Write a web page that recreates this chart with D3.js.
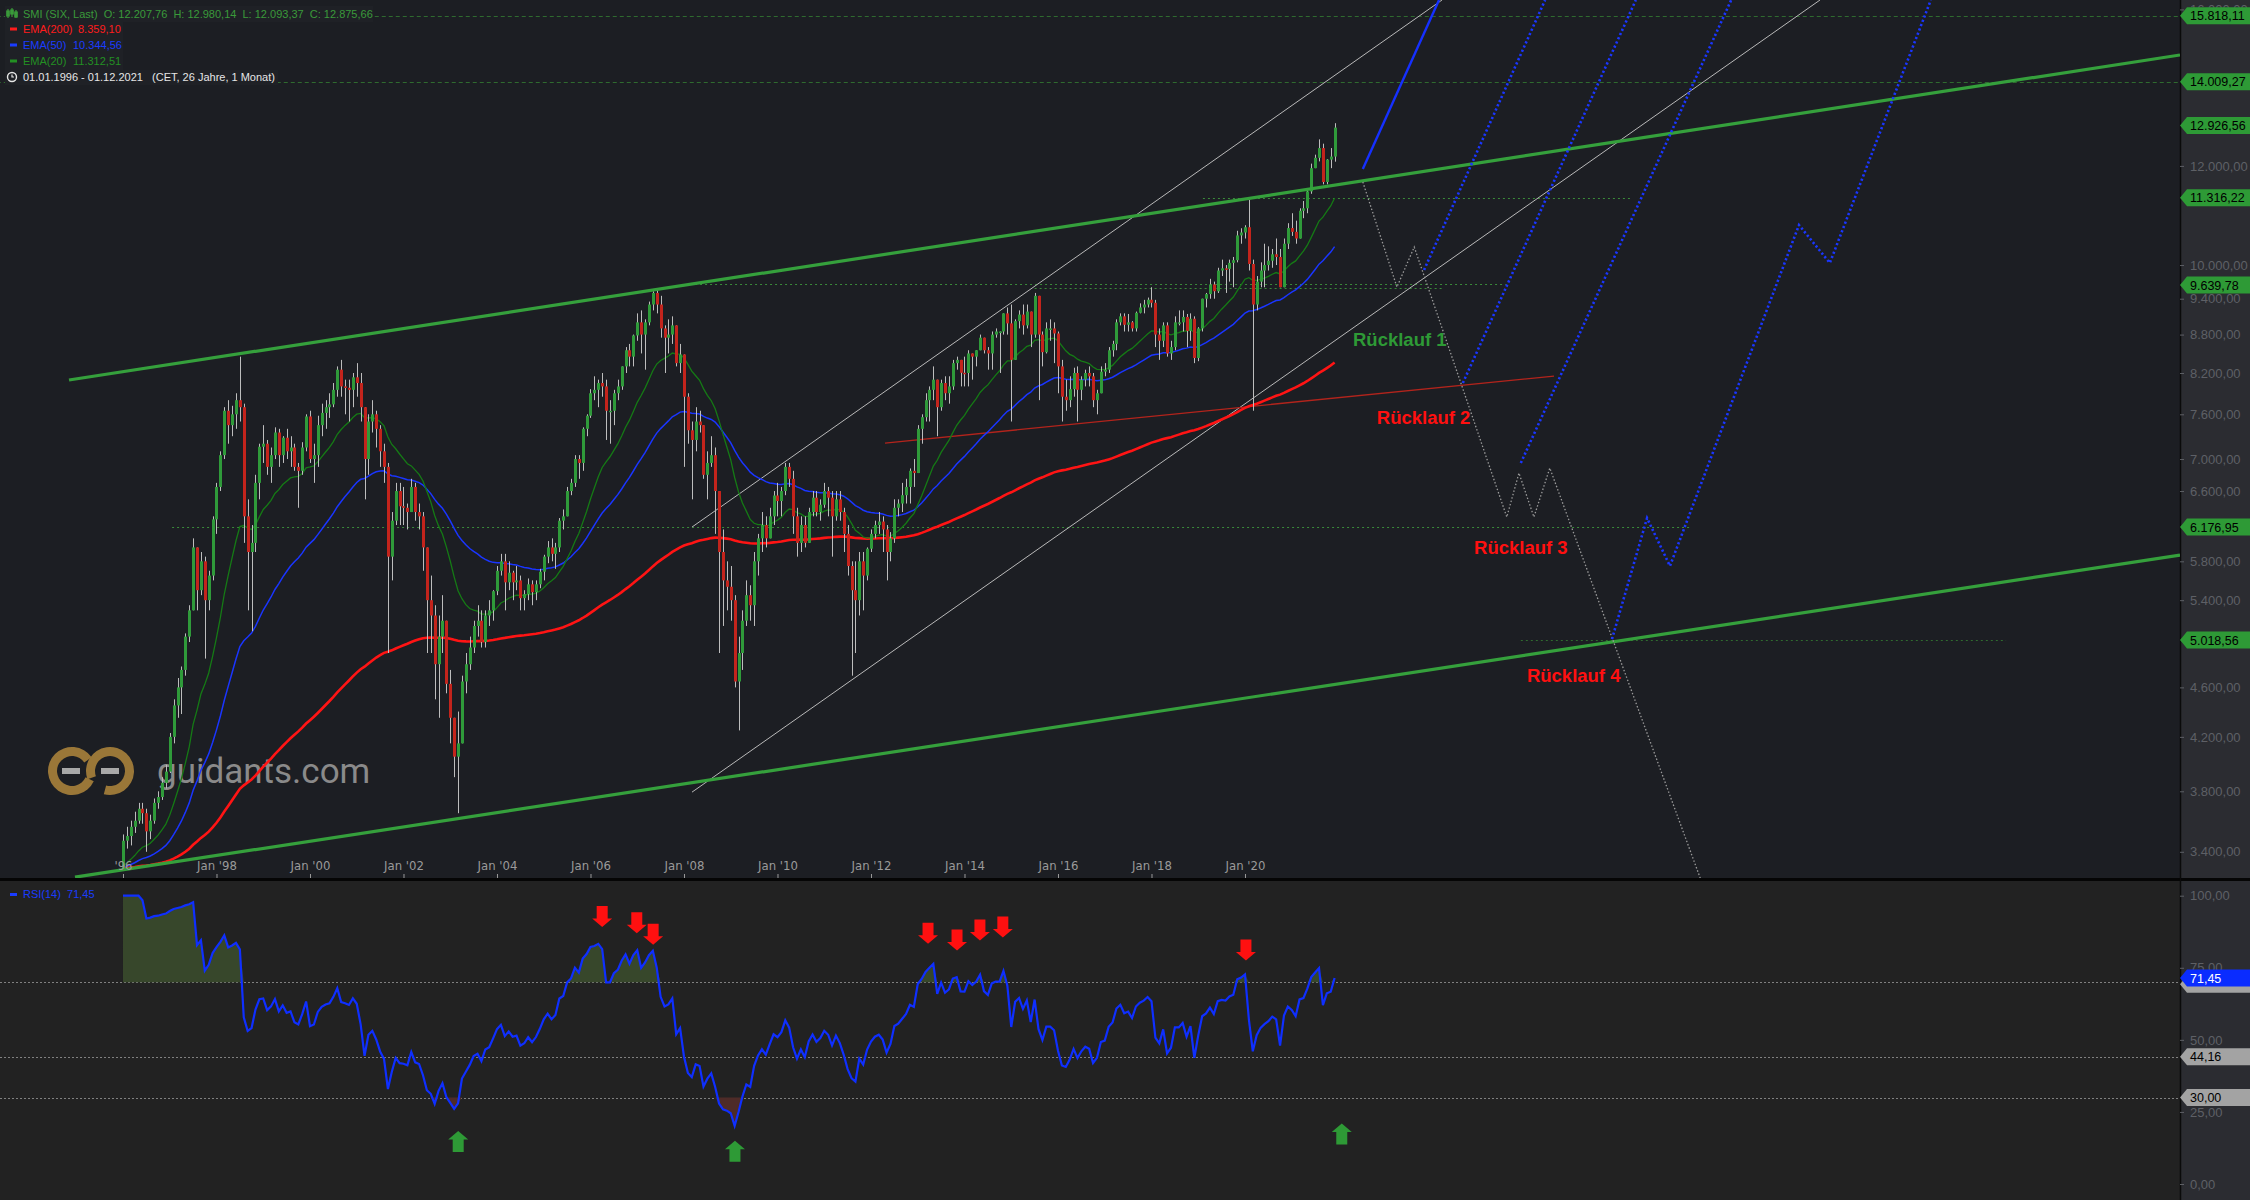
<!DOCTYPE html>
<html><head><meta charset="utf-8">
<script src="https://cdn.jsdelivr.net/npm/d3@7"></script>
<style>
html,body{margin:0;padding:0;background:#1c1e23;overflow:hidden}
svg{display:block}
</style></head><body>
<svg id="c" width="2250" height="1200"></svg>
<script>
// ---------------- DATA ----------------
const startYear = 1996;
const firstOpen = 3297;
const closes = [
3470,3500,3560,3600,3680,3650,3530,3600,3720,3760,3860,3940,
4200,4450,4600,4750,5050,5300,5950,5500,5800,5400,5650,6265,
6650,7050,7650,7450,7600,7800,7700,6300,5900,6000,6700,7160,
7200,6900,7050,7350,7050,7280,7100,7150,6900,6850,7150,7570,
7000,7050,7450,7620,7700,7740,7950,8250,8000,7980,7950,8135,
8050,7700,7000,7500,7600,7400,7100,6900,5850,6250,6600,6418,
6400,6350,6650,6350,6300,5950,5400,5250,4800,5050,5200,4630,
4350,4050,4150,4650,4800,4950,5150,5200,5000,5250,5300,5490,
5700,5800,5580,5680,5580,5600,5420,5460,5560,5480,5560,5690,
5850,5950,5880,5950,6250,6300,6600,6700,7000,6950,7400,7580,
7900,7950,8050,8000,7650,7650,7900,8000,8300,8550,8450,8786,
9000,8800,9000,9300,9500,9300,8900,8750,8800,8950,8350,8484,
7850,7380,7250,7500,7450,6800,6950,7050,6600,5900,5600,5535,
5400,4650,4900,5200,5450,5350,5800,6050,6200,6050,6300,6546,
6480,6600,6900,6750,6300,6000,6200,6000,6350,6520,6350,6436,
6600,6520,6300,6500,6350,6100,5750,5500,5400,5800,5650,5936,
6100,6200,6240,6150,5900,6050,6400,6450,6550,6650,6850,6822,
7400,7560,7800,7950,8100,7700,8050,7900,8000,8350,8400,8203,
8200,8500,8450,8550,8750,8550,8500,8800,8850,8850,9150,8983,
8400,9020,9130,8950,9180,8800,9450,8800,8520,8900,8900,8818,
8300,7850,7800,7960,8200,7950,8100,8200,8150,7800,7900,8220,
8250,8550,8650,9000,9100,8960,9000,8900,9160,9250,9300,9382,
9330,8800,8700,8950,8500,8600,9000,9000,9090,8860,9060,8429,
8900,9400,9480,9650,9530,9900,9940,9930,10040,10090,10560,10617,
10720,10020,9300,9700,9900,10000,10080,10200,10150,9600,10400,10704,
10630,10500,11050,11100,11450,11950,12180,12400,11650,12140,12207.76,12875.66
];
const highs = [
3510,3560,3600,3660,3720,3720,3680,3640,3750,3800,3900,3990,
4230,4500,4680,4780,5080,5350,6050,5950,5900,5850,5700,6300,
6700,7100,7700,7800,7720,7900,8450,7750,6500,6200,6800,7200,
7450,7250,7150,7420,7400,7300,7400,7300,7200,6950,7220,7600,
7650,7200,7580,7750,7800,7900,8050,8300,8400,8100,8100,8200,
8350,8200,7700,7600,7800,7650,7450,7200,6950,6350,6700,6700,
6650,6450,6750,6700,6450,6350,5950,5650,5350,5250,5450,5200,
4750,4350,4400,4700,4900,5050,5200,5350,5300,5300,5400,5500,
5750,5880,5880,5800,5700,5750,5650,5500,5620,5600,5600,5720,
5870,6020,6050,6000,6280,6380,6650,6750,7050,7050,7420,7600,
7960,8150,8100,8200,8100,7800,7950,8100,8300,8600,8650,8800,
9150,9200,9050,9350,9530,9550,9450,8950,9050,9100,8950,8650,
8400,7900,7500,7700,7650,7450,7100,7300,7150,6600,6150,5800,
5750,5450,5050,5300,5600,5550,5900,6100,6350,6300,6400,6600,
6700,6650,6950,6950,6850,6400,6300,6300,6400,6600,6600,6500,
6700,6650,6600,6600,6600,6400,6200,5800,5800,5900,5900,5950,
6150,6250,6350,6300,6200,6120,6500,6500,6700,6750,6880,7000,
7450,7600,7900,8000,8300,8050,8100,8150,8150,8400,8450,8400,
8450,8550,8500,8550,8800,8750,8600,8850,8900,8850,9150,9250,
9300,9050,9200,9300,9300,9100,9500,9400,8850,9000,9050,9000,
8850,8400,8100,8150,8280,8300,8150,8250,8300,8200,7950,8300,
8350,8600,8700,9050,9150,9150,9140,9020,9180,9320,9380,9420,
9600,9380,8900,9000,9000,8700,9100,9200,9200,9140,9150,9100,
8920,9400,9500,9750,9700,9950,10100,10000,10100,10150,10650,10700,
10760,11270,10100,9800,10050,10400,10350,10300,10500,10300,10500,10800,
11000,10850,11100,11250,11500,12050,12250,12600,12500,12150,12400,12980.14
];
const lows = [
3290,3420,3440,3520,3580,3580,3400,3480,3580,3680,3740,3820,
3930,4150,4350,4380,4700,5000,5300,5300,5450,4850,5300,5600,
6100,6600,7000,7200,7300,7400,7500,6000,5300,5100,5900,6500,
6950,6800,6700,7000,6900,6950,7000,6900,6850,6400,6800,7100,
6950,6700,6900,7300,7400,7550,7700,7850,7850,7600,7500,7700,
7850,7500,6500,6800,7350,7150,6900,6700,4900,5600,6200,6200,
6200,6150,6350,6250,6150,5700,4900,4900,4500,4350,4900,4550,
4150,3900,3650,4150,4550,4750,4900,5050,4950,4950,5150,5200,
5450,5650,5300,5500,5400,5500,5300,5300,5400,5350,5400,5520,
5600,5780,5800,5720,5900,6150,6300,6550,6650,6750,6850,7300,
7550,7800,7700,7850,7250,7200,7450,7800,7950,8200,8300,8300,
8700,8500,8250,8950,9200,9150,8750,8200,8500,8650,8300,8200,
6900,7200,6500,7100,7350,6750,6500,6900,6100,4900,5150,5300,
5200,4600,4250,4750,5150,5200,5150,5650,5900,5950,6050,6200,
6300,6300,6550,6650,6100,5850,5900,5950,6000,6300,6300,6250,
6400,6300,5850,6250,6250,5900,5650,4700,4900,5250,5300,5600,
5900,6050,6100,5900,5600,5800,6000,6300,6350,6450,6450,6650,
6900,7200,7500,7500,7800,7300,7650,7800,7750,7950,8250,8000,
8000,8000,8100,8300,8550,8500,8250,8250,8750,8200,8800,8800,
7500,8400,8900,8800,8900,8600,8750,7800,8300,8500,8700,8350,
7900,7500,7650,7700,7850,7500,7800,8000,8000,7700,7600,7900,
8150,8200,8450,8550,8950,8850,8850,8850,8850,9150,9150,9250,
9250,8600,8400,8600,8450,8400,8550,8950,8850,8600,8700,8350,
8380,8850,9250,9400,9400,9500,9800,9500,9700,9600,10050,10400,
10500,9900,7650,9200,9600,9600,9900,9950,10000,9600,9700,10300,
10550,10400,10500,10900,11000,11400,11950,12100,11600,11600,11950,12093.37
];
const yTicks = [3400,3800,4200,4600,5400,5800,6600,7000,7600,8200,8800,9400,10000,12000,16000];
const xTicks = [1996,1998,2000,2002,2004,2006,2008,2010,2012,2014,2016,2018,2020];
const rsiTicks = [0,25,50,75,100];
const priceTags = [15818.11,14009.27,12926.56,11316.22,9639.78,6176.95,5018.56];
const levels = [
  {v:15818.11, from:1993.3, to:2040.1, dash:"4,3", c:"#2f6a2f"},
  {v:14009.27, from:1993.3, to:2040.1, dash:"4,3", c:"#2f6a2f"},
  {v:11316.22, from:2019.10, to:2028.24, dash:"2,3", c:"#3a8a3a"},
  {v:9655, from:2008.13, to:2025.58, dash:"2,3", c:"#3a8a3a"},
  {v:9585, from:2015.5, to:2024.24, dash:"2,3", c:"#3a8a3a"},
  {v:6176.95, from:1997.05, to:2029.52, dash:"2,3", c:"#3a8a3a"},
  {v:5018.56, from:2025.90, to:2036.28, dash:"2,3", c:"#2f6a2f"}
];
const trendGreenUpper = [[1994.845, 8095],[2040.0, 14715]];
const trendGreenLower = [[1994.973, 3245],[2040.0, 5867]];
const channelUpper = [[2008.171, 6177],[2024.214, 16280]];
const channelLower = [[2008.171, 3794],[2032.30, 16280]];
const redLine = [[2012.30, 7209],[2026.61, 8154]];
const blueSolid = [[2022.52, 11932],[2024.15, 16280]];
const blueDot1 = [[2023.83, 9909],[2026.42, 16280]];
const blueDot2 = [[2024.66, 8050],[2028.36, 16280]];
const blueDot3 = [[2025.90, 6949],[2030.40, 16280]];
const blueDot4 = [[2027.85, 5027],[2028.60, 6280],[2029.09, 5750],[2031.85, 10764],[2032.51, 10038],[2034.67, 16280]];
const greyPath = [[2022.52, 11650],[2023.25, 9604],[2023.62, 10337],[2025.60, 6292],[2025.86, 6822],[2026.18, 6292],[2026.52, 6885],[2029.75, 3230]];
const notes = [
  {t:"Rücklauf 1", x:2022.31, v:8617, c:"#2e9a36"},
  {t:"Rücklauf 2", x:2022.82, v:7464, c:"#ff1010"},
  {t:"Rücklauf 3", x:2024.90, v:5878, c:"#ff1010"},
  {t:"Rücklauf 4", x:2026.03, v:4645, c:"#ff1010"}
];
const downArrows = [[2006.25,92.8],[2006.99,90.6],[2007.34,86.6],[2013.22,87.0],[2013.84,84.6],[2014.33,88.1],[2014.82,89.1],[2020.02,81.2]];
const upArrows = [[2003.17,14.7],[2009.09,11.4],[2022.07,17.3]];
const rsiLevels = [70, 44.16, 30];

// ---------------- SETUP ----------------
const W=2250, H=1200, PR=2180, MB=878, RT=881;
const svg = d3.select("#c");
const loc = d3.formatLocale({decimal:",",thousands:".",grouping:[3],currency:["",""]});
const fmt = loc.format(",.2f");

const n = closes.length;
const candles = closes.map((c,i)=>{
  const o = i===0 ? firstOpen : closes[i-1];
  return {t: startYear + i/12, o, c, h: Math.max(highs[i], o, c), l: Math.min(lows[i], o, c)};
});
function ema(arr, p){ const k=2/(p+1); let e=firstOpen; return arr.map(v => (e = v*k + e*(1-k))); }
const ema20 = ema(closes,20), ema50 = ema(closes,50), ema200 = ema(closes,200);
const rsi = [];
{ let ag=0, al=0;
  candles.forEach((d,i)=>{
    const ch = d.c - d.o, g=Math.max(ch,0), l=Math.max(-ch,0);
    if(i===0){ag=g; al=l;} else {ag=(ag*13+g)/14; al=(al*13+l)/14;}
    rsi.push(al===0 ? 100 : 100 - 100/(1+ag/al));
  });
}

const x = d3.scaleLinear().domain([1993.369, 2040.0]).range([0, PR]);
const y = d3.scaleLog().domain([3240, 16280]).range([MB, 0]);
const yR = d3.scaleLinear().domain([0,100]).range([1184, 895.7]);

// backgrounds
svg.append("rect").attr("x",0).attr("y",0).attr("width",W).attr("height",H).attr("fill","#1c1e23");
svg.append("rect").attr("x",0).attr("y",RT).attr("width",PR).attr("height",H-RT).attr("fill","#222222");
svg.append("rect").attr("x",PR).attr("y",0).attr("width",W-PR).attr("height",H).attr("fill","#2b2c31");
svg.append("rect").attr("x",0).attr("y",MB).attr("width",W).attr("height",RT-MB).attr("fill","#050505");
svg.append("line").attr("x1",PR+0.5).attr("x2",PR+0.5).attr("y1",0).attr("y2",H).attr("stroke","#0a0a0a").attr("stroke-width",1.5);

const defs = svg.append("defs");
defs.append("clipPath").attr("id","cm").append("rect").attr("x",0).attr("y",0).attr("width",PR).attr("height",MB);
defs.append("clipPath").attr("id","cr").append("rect").attr("x",0).attr("y",RT).attr("width",PR).attr("height",H-RT);

const main = svg.append("g").attr("clip-path","url(#cm)");

// watermark
const wm = main.append("g");
const ringArc = d3.arc().innerRadius(15).outerRadius(24);
wm.append("path").attr("transform","translate(72,771)").attr("fill","#9a7738")
  .attr("d", ringArc({startAngle: 115*Math.PI/180, endAngle: 415*Math.PI/180}));
wm.append("path").attr("transform","translate(110,771)").attr("fill","#9a7738")
  .attr("d", ringArc({startAngle: 250*Math.PI/180, endAngle: 555*Math.PI/180}));
wm.append("rect").attr("x",62).attr("y",768).attr("width",18).attr("height",6).attr("fill","#a8a8a8");
wm.append("rect").attr("x",101).attr("y",768).attr("width",18).attr("height",6).attr("fill","#a8a8a8");
wm.append("text").attr("x",157).attr("y",783).attr("font-family","Roboto, sans-serif").attr("font-size",35)
  .attr("fill","#8a8a8a").text("guidants.com");

// levels
main.selectAll(".lvl").data(levels).join("line")
  .attr("x1",d=>x(d.from)).attr("x2",d=>x(d.to)).attr("y1",d=>Math.round(y(d.v))+0.5).attr("y2",d=>Math.round(y(d.v))+0.5)
  .attr("stroke",d=>d.c).attr("stroke-width",1).attr("stroke-dasharray",d=>d.dash);

const lineGen = d3.line().x(d=>x(d[0])).y(d=>y(d[1]));
function drawLine(data, color, width, dash){
  const p = main.append("path").attr("d", lineGen(data)).attr("fill","none").attr("stroke",color).attr("stroke-width",width);
  if(dash) p.attr("stroke-dasharray",dash);
  return p;
}
drawLine(channelUpper, "#b9b9b9", 1);
drawLine(channelLower, "#b9b9b9", 1);
drawLine(redLine, "#b3241c", 1.3);

// EMAs
const emaLine = arr => d3.line().x((d,i)=>x(candles[i].t)).y(d=>y(d))(arr);
main.append("path").attr("d",emaLine(ema200)).attr("fill","none").attr("stroke","#ff1414").attr("stroke-width",2.6);
main.append("path").attr("d",emaLine(ema50)).attr("fill","none").attr("stroke","#1a35ff").attr("stroke-width",1.5);
main.append("path").attr("d",emaLine(ema20)).attr("fill","none").attr("stroke","#157a15").attr("stroke-width",1.3);

// candles
const cg = main.append("g");
cg.selectAll(".wick").data(candles).join("line")
  .attr("x1",d=>Math.round(x(d.t))+0.5).attr("x2",d=>Math.round(x(d.t))+0.5)
  .attr("y1",d=>y(d.h)).attr("y2",d=>y(d.l)).attr("stroke","#bdbdbd").attr("stroke-width",1);
cg.selectAll(".body").data(candles).join("rect")
  .attr("x",d=>Math.round(x(d.t))-1).attr("width",3)
  .attr("y",d=>y(Math.max(d.o,d.c))).attr("height",d=>Math.max(1.5, y(Math.min(d.o,d.c))-y(Math.max(d.o,d.c))))
  .attr("fill",d=>d.c>=d.o ? "#2f9a3a" : "#c3241c");

// trend lines
drawLine(trendGreenUpper, "#35a03c", 3.2);
drawLine(trendGreenLower, "#35a03c", 3.2);
drawLine(greyPath, "#9a9a9a", 1.3, "1.5,2");
drawLine(blueSolid, "#1530ff", 2.4);
[blueDot1, blueDot2, blueDot3, blueDot4].forEach(d=>drawLine(d, "#1a36ff", 2.6, "2.2,2.4"));

// notes
main.selectAll(".note").data(notes).join("text")
  .attr("x",d=>x(d.x)).attr("y",d=>y(d.v)).attr("fill",d=>d.c)
  .attr("font-family","'Liberation Sans', Arial, sans-serif").attr("font-weight","bold").attr("font-size",18.5)
  .text(d=>d.t);

// x axis
const xa = svg.append("g").attr("transform",`translate(0,${MB})`)
  .call(d3.axisTop(x).tickValues(xTicks).tickSize(4).tickPadding(4)
    .tickFormat(v => v===1996 ? "'96" : "Jan '" + String(v).slice(2)));
xa.select(".domain").remove();
xa.selectAll("line").attr("stroke","#9a9a9a");
xa.selectAll("text").attr("fill","#9a9a9a").attr("font-size",13)
  .attr("font-family","'Liberation Sans Narrow','DejaVu Sans Condensed', 'Liberation Sans', sans-serif");

// y axis
const ya = svg.append("g").attr("transform",`translate(${PR},0)`)
  .call(d3.axisRight(y).tickValues(yTicks).tickSize(4).tickPadding(6).tickFormat(fmt));
ya.select(".domain").remove();
ya.selectAll("line").attr("stroke","#5e6066");
ya.selectAll("text").attr("fill","#5e6066").attr("font-size",13).attr("font-family","'Liberation Sans', Arial, sans-serif");

// tags
function tag(g, yy, text, bg, fg){
  const t = g.append("g").attr("transform",`translate(${PR},${yy})`);
  t.append("path").attr("d","M0,0 L7,-8.5 H70 V8.5 H7 Z").attr("fill",bg);
  if(text) t.append("text").attr("x",10).attr("y",4.5).attr("fill",fg).attr("font-size",12.5)
    .attr("font-family","'Liberation Sans', Arial, sans-serif").text(text);
}
const tg = svg.append("g");
priceTags.forEach(v=>tag(tg, y(v), fmt(v), "#2e9a36", "#000"));

// legend
const lg = svg.append("g").attr("font-family","'Liberation Sans', Arial, sans-serif").attr("font-size",11);
lg.append("rect").attr("x",5).attr("y",6).attr("width",368).attr("height",16).attr("fill","#1f2126");
lg.append("rect").attr("x",5).attr("y",22).attr("width",118).attr("height",48).attr("fill","#1f2126");
lg.append("rect").attr("x",5).attr("y",70).attr("width",273).attr("height",15).attr("fill","#1f2126");
const ic = lg.append("g").attr("stroke","#3a9a3a").attr("stroke-width",1.2);
[[8,9,18,11,16],[12,8,17,10,14],[16,10,18,12,17]].forEach(a=>{
  ic.append("line").attr("x1",a[0]).attr("x2",a[0]).attr("y1",a[1]).attr("y2",a[2]);
  ic.append("rect").attr("x",a[0]-1.2).attr("y",a[3]).attr("width",2.4).attr("height",a[4]-a[3]).attr("fill","#3a9a3a");
});
lg.append("text").attr("x",23).attr("y",17.5).attr("fill","#3a9a3a").attr("xml:space","preserve")
  .text("SMI (SIX, Last)  O: 12.207,76  H: 12.980,14  L: 12.093,37  C: 12.875,66");
const legRows = [
  {lab:"EMA(200)", val:fmt(ema200[n-1]), c:"#ff1c1c", vx:78},
  {lab:"EMA(50)", val:fmt(ema50[n-1]), c:"#1a3cff", vx:73},
  {lab:"EMA(20)", val:fmt(ema20[n-1]), c:"#239023", vx:73}
];
legRows.forEach((r,i)=>{
  const yy = 29 + i*16;
  lg.append("rect").attr("x",10).attr("y",yy-1.5).attr("width",7).attr("height",3).attr("fill",r.c);
  lg.append("text").attr("x",23).attr("y",yy+4).attr("fill",r.c).text(r.lab);
  lg.append("text").attr("x",r.vx).attr("y",yy+4).attr("fill",r.c).text(r.val);
});
lg.append("circle").attr("cx",12).attr("cy",77).attr("r",4.5).attr("fill","none").attr("stroke","#e6e6e6").attr("stroke-width",1.4);
lg.append("path").attr("d","M12,74.5 V77 H14").attr("fill","none").attr("stroke","#e6e6e6").attr("stroke-width",1.2);
lg.append("text").attr("x",23).attr("y",81).attr("fill","#e6e6e6").attr("xml:space","preserve")
  .text("01.01.1996 - 01.12.2021   (CET, 26 Jahre, 1 Monat)");

// ---------------- RSI ----------------
const rg = svg.append("g").attr("clip-path","url(#cr)");
rg.selectAll(".rl").data(rsiLevels).join("line")
  .attr("x1",0).attr("x2",PR).attr("y1",d=>Math.round(yR(d))+0.5).attr("y2",d=>Math.round(yR(d))+0.5)
  .attr("stroke","#808080").attr("stroke-width",1).attr("stroke-dasharray","2,2");
const rx = (d,i)=>x(candles[i].t);
rg.append("path").attr("fill","#37472b")
  .attr("d", d3.area().x(rx).y0(yR(70)).y1(d=>yR(Math.max(d,70)))(rsi));
rg.append("path").attr("fill","#4e2b28")
  .attr("d", d3.area().x(rx).y0(yR(30)).y1(d=>yR(Math.min(d,30)))(rsi));
rg.append("path").attr("fill","none").attr("stroke","#0f2fff").attr("stroke-width",2.2)
  .attr("d", d3.line().x(rx).y(d=>yR(d))(rsi));

const downPath = "M-5.5,-10.5 H5.5 V2 H10 L0,10.5 L-10,2 H-5.5 Z";
const upPath = "M-5.5,10.5 H5.5 V-2 H10 L0,-10.5 L-10,-2 H-5.5 Z";
rg.selectAll(".da").data(downArrows).join("path").attr("d",downPath).attr("fill","#ff1010")
  .attr("transform",d=>`translate(${x(d[0])},${yR(d[1])})`);
rg.selectAll(".ua").data(upArrows).join("path").attr("d",upPath).attr("fill","#2e9a36")
  .attr("transform",d=>`translate(${x(d[0])},${yR(d[1])})`);

svg.append("rect").attr("x",10).attr("y",893).attr("width",7).attr("height",3).attr("fill","#1a3cff");
svg.append("text").attr("x",23).attr("y",898).attr("fill","#1a3cff").attr("font-size",11)
  .attr("font-family","'Liberation Sans', Arial, sans-serif").attr("xml:space","preserve")
  .text("RSI(14)  " + fmt(rsi[n-1]));

const ra = svg.append("g").attr("transform",`translate(${PR},0)`)
  .call(d3.axisRight(yR).tickValues(rsiTicks).tickSize(4).tickPadding(6).tickFormat(fmt));
ra.select(".domain").remove();
ra.selectAll("line").attr("stroke","#5e6066");
ra.selectAll("text").attr("fill","#5e6066").attr("font-size",13).attr("font-family","'Liberation Sans', Arial, sans-serif");

const rtg = svg.append("g");
tag(rtg, yR(30), fmt(30), "#a3a3a3", "#000");
tag(rtg, yR(44.16), fmt(44.16), "#a3a3a3", "#000");
tag(rtg, yR(70)+2, null, "#a3a3a3", "#000");
tag(rtg, yR(rsi[n-1]), fmt(rsi[n-1]), "#0a2cff", "#fff");
</script>
</body></html>
